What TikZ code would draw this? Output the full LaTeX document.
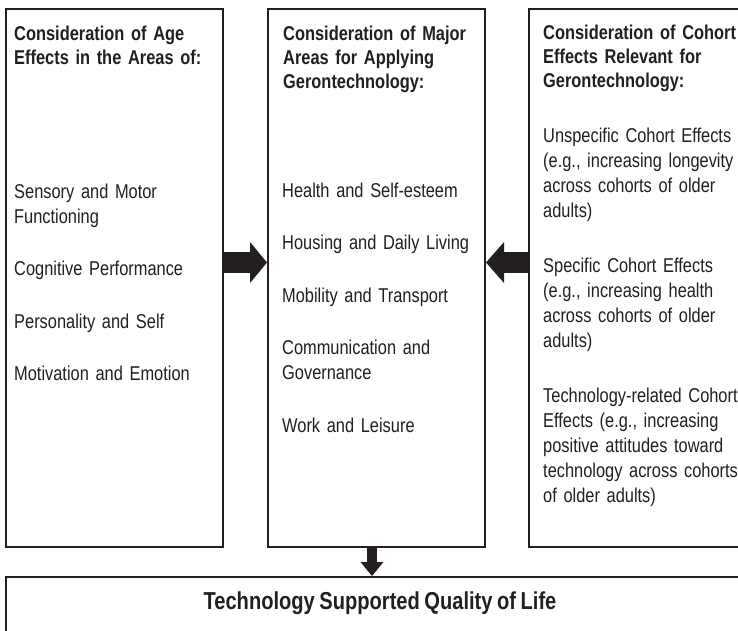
\documentclass[tikz,border=0pt]{standalone}
\usepackage{fontspec}
\setmainfont[FakeStretch=0.82, WordSpace=0.82]{Liberation Sans}
\usepackage{tikz}
\usetikzlibrary{positioning, arrows.meta, calc}
\definecolor{ink}{HTML}{231F20}

\begin{document}
\begin{tikzpicture}[
  x=1pt, y=-1pt, text=ink,
  font=\fontsize{20}{25}\selectfont,
  panel/.style={draw=ink, line width=2pt, inner sep=0pt, anchor=north west,
                minimum width=217pt, minimum height=538pt},
  heading/.style={font=\fontsize{20}{24}\selectfont\bfseries, inner sep=0pt,
                  text width=215pt, align=left, anchor=base west},
  items/.style={inner sep=0pt, text width=215pt, align=left, anchor=base west},
  flow/.style={ink, line width=#1},
]

% page frame
\useasboundingbox (0,0) rectangle (738,630);
\clip (0,0) rectangle (738,630);
\fill[white] (0,0) rectangle (738,630);

% three columns
\node[panel] (age) at (5,8) {};
\node[panel] (areas) at (267,8) {};
\node[panel, minimum width=240pt] (cohort) at (528,8) {};

% outcome bar
\node[panel, minimum width=760pt, minimum height=80pt] (qol) at (5,576) {};

% age effects
\node[heading] (agehead) at (14,40) {Consideration of Age\\Effects in the Areas of:};
\node[items] (ageitems) at (14,198) {
  Sensory and Motor\\Functioning\\[27.5pt]
  Cognitive Performance\\[27.5pt]
  Personality and Self\\[27.5pt]
  Motivation and Emotion};

% major areas
\node[heading] (areashead) at (283,40) {Consideration of Major\\Areas for Applying\\Gerontechnology:};
\node[items] (areaitems) at (282,197) {
  Health and Self-esteem\\[27.5pt]
  Housing and Daily Living\\[27.5pt]
  Mobility and Transport\\[27.5pt]
  Communication and\\Governance\\[27.5pt]
  Work and Leisure};

% cohort effects
\node[heading] (cohorthead) at (543,39) {Consideration of Cohort\\Effects Relevant for\\Gerontechnology:};
\node[items] (cohortitems) at (543,142) {
  Unspecific Cohort Effects\\(e.g., increasing longevity\\across cohorts of older\\adults)\\[30.5pt]
  Specific Cohort Effects\\(e.g., increasing health\\across cohorts of older\\adults)\\[30pt]
  Technology-related Cohort\\Effects (e.g., increasing\\positive attitudes toward\\technology across cohorts\\of older adults)};

\node[font=\fontsize{24.5}{29}\selectfont\bfseries, anchor=base] (qoltitle) at (380,609)
  {Technology Supported Quality of Life};

% block arrows
\coordinate (row) at (0,262.5);
\coordinate (drop) at (372,0);
\draw[flow=21pt, -{Triangle[length=17pt, width=41pt, line width=0pt]}]
  (age.east |- row) -- (areas.west |- row);
\draw[flow=21pt, -{Triangle[length=18pt, width=41pt, line width=0pt]}]
  (cohort.west |- row) -- (areas.east |- row);
\draw[flow=10pt, -{Triangle[length=14pt, width=23pt, line width=0pt]}]
  (drop |- areas.south) -- (drop |- qol.north);

\end{tikzpicture}
\end{document}
